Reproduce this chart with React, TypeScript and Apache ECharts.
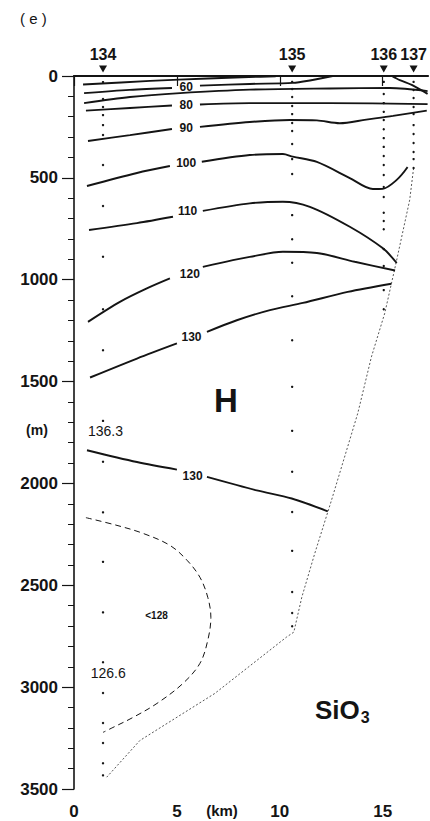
import React, { useEffect, useRef } from "react";
import * as echarts from "echarts";

const FONT = '"Liberation Sans", Arial, Helvetica, sans-serif';

// Section axes: distance (km) and depth (m)
const kmMax = 17.2;
const depthMax = 3500;

// Station positions along the section
const stationNames = ["134", "135", "136", "137"];
const stationKm = [1.41, 10.6, 15.05, 16.5];

// Sampling depths (m) at each station
const samples134 = [30, 113, 152, 192, 241, 290, 437, 638, 887, 1145, 1346, 1693, 1894, 2142, 2385, 2633, 2878, 3029, 3176, 3274, 3374, 3433];
const samples135 = [29, 64, 103, 147, 187, 231, 270, 334, 408, 481, 683, 801, 917, 1081, 1297, 1526, 1742, 1943, 2140, 2331, 2533, 2636, 2701];
const samples136 = [29, 88, 133, 176, 216, 261, 305, 348, 393, 437, 486, 545, 594, 671, 712, 752, 850, 933, 1051, 1145];
const samples137 = [29, 69, 108, 152, 187, 241, 285, 329, 373, 408, 452];

// Bottom profile [km, m]
const bottomProfile = [[16.5, 452], [16.31, 609], [15.66, 912], [15.1, 1164], [14.45, 1379], [13.79, 1655], [12.51, 2083], [11.7, 2343], [11.07, 2558], [10.68, 2730], [10.33, 2754], [6.84, 3031], [3.2, 3262], [1.59, 3442]];

// Silicate isolines [km, m]; labelled lines are split around their label
const iso50 = [[0.44, 42], [3.7, 24], [6.5, 12], [8.5, 5], [9.8, 2]];
const iso60a = [[0.49, 84], [2.7, 68], [4.76, 59]];
const iso60b = [[6.12, 47], [8.54, 39], [10.63, 34], [11.46, 22], [12.57, 0]];
const iso60coast = [[15.44, 0], [15.83, 20], [16.41, 44], [17.18, 88]];
const iso70 = [[0.49, 133], [2.72, 103], [5.15, 84], [8.54, 67], [12.43, 61], [15.34, 59], [17.18, 74]];
const iso80a = [[0.58, 170], [2.72, 157], [4.76, 145]];
const iso80b = [[6.12, 140], [8.54, 133], [12.43, 133], [17.18, 138]];
const iso90a = [[0.68, 319], [2.72, 290], [4.76, 260]];
const iso90b = [[6.12, 250], [8.54, 226], [10.49, 216], [11.8, 218], [12.91, 232], [14.2, 214], [15.5, 196], [17.14, 170]];
const iso100a = [[0.63, 540], [3.06, 476], [4.66, 442]];
const iso100b = [[6.21, 421], [8.54, 388], [10.15, 383], [10.63, 396], [11.8, 422], [13.4, 501], [14.52, 555], [15.0, 554], [15.68, 510], [16.21, 447]];
const iso110a = [[0.73, 756], [3.06, 722], [4.81, 691]];
const iso110b = [[6.26, 662], [8.54, 625], [10.15, 617], [11.46, 642], [13.4, 740], [15.01, 846], [15.68, 918]];
const iso120a = [[0.68, 1207], [2.23, 1109], [3.54, 1043], [4.66, 994]];
const iso120b = [[6.26, 937], [7.72, 904], [8.54, 888], [10.15, 863], [11.8, 869], [13.64, 912], [15.6, 955]];
const iso130upperA = [[0.78, 1480], [3.06, 1387], [5.0, 1313]];
const iso130upperB = [[6.46, 1256], [7.91, 1199], [9.52, 1149], [11.12, 1114], [13.3, 1060], [15.42, 1020]];
const iso130lowerA = [[0.63, 1837], [3.06, 1895], [5.0, 1932]];
const iso130lowerB = [[6.46, 1968], [8.88, 2034], [10.58, 2074], [12.33, 2137]];
const iso128 = [[0.58, 2168], [2.09, 2206], [3.35, 2245], [4.66, 2304], [5.49, 2377], [6.12, 2461], [6.5, 2559], [6.65, 2657], [6.5, 2770], [6.12, 2883], [5.29, 2982], [4.03, 3080], [2.86, 3149], [1.89, 3198], [1.41, 3222]];

// Isoline labels: text, km, m
const isoLabelText = ["60", "80", "90", "100", "110", "120", "130", "130"];
const isoLabelKm = [5.45, 5.45, 5.45, 5.45, 5.52, 5.63, 5.71, 5.76];
const isoLabelDepth = [55, 141, 255, 426, 662, 973, 1281, 1965];

// Value notes inside the section
const noteText = ["136.3", "126.6"];
const noteKm = [0.68, 0.81];
const noteDepth = [1745, 2931];

const solidLines = [iso50, iso60a, iso60b, iso60coast, iso70, iso80a, iso80b, iso90a, iso90b, iso100a, iso100b, iso110a, iso110b, iso120a, iso120b, iso130upperA, iso130upperB, iso130lowerA, iso130lowerB];

const ink = "#141414";

function textSeries(data: any[], label: any) {
  return {
    type: "scatter",
    data,
    symbolSize: 0,
    silent: true,
    itemStyle: { opacity: 1, color: ink },
    label: {
      show: true,
      formatter: (p: any) => p.name,
      color: ink,
      opacity: 1,
      fontFamily: FONT,
      ...label,
    },
    z: 6,
  };
}

export default function App() {
  const ref = useRef<HTMLDivElement>(null);

  useEffect(() => {
    document.body.style.margin = "0";
    if (!ref.current) return;
    const chart = echarts.init(ref.current, null, { renderer: "svg" });

    const series: any[] = [];

    solidLines.forEach((pts) => {
      series.push({
        type: "line",
        data: pts,
        smooth: 0.3,
        symbol: "none",
        silent: true,
        lineStyle: { color: ink, width: 1.9 },
        z: 3,
      });
    });

    series.push({
      type: "line",
      data: iso128,
      smooth: 0.35,
      symbol: "none",
      silent: true,
      lineStyle: { color: ink, width: 1, type: [6, 4] },
      z: 3,
    });

    series.push({
      type: "line",
      data: bottomProfile,
      symbol: "none",
      silent: true,
      lineStyle: { color: "#444", width: 0.9, type: [2, 2] },
      z: 2,
    });

    const dots: number[][] = [];
    [samples134, samples135, samples136, samples137].forEach((arr, i) => {
      arr.forEach((d) => dots.push([stationKm[i], d]));
    });
    series.push({
      type: "scatter",
      data: dots,
      symbol: "circle",
      symbolSize: 2.4,
      itemStyle: { color: ink, opacity: 1 },
      silent: true,
      z: 4,
    });

    // Station markers above the surface line
    series.push({
      type: "scatter",
      data: stationKm.map((km, i) => ({ value: [km, -34], name: stationNames[i] })),
      symbol: "triangle",
      symbolRotate: 180,
      symbolSize: [8, 7],
      itemStyle: { color: ink, opacity: 1 },
      clip: false,
      silent: true,
      label: {
        show: true,
        position: "top",
        distance: 3,
        formatter: (p: any) => p.name,
        color: ink,
        fontFamily: FONT,
        fontWeight: "bold",
        fontSize: 16,
      },
      z: 5,
    });

    series.push(
      textSeries(
        isoLabelText.map((t, i) => ({ value: [isoLabelKm[i], isoLabelDepth[i]], name: t })),
        { position: "inside", fontWeight: "bold", fontSize: 12 }
      )
    );
    series.push(
      textSeries(
        noteText.map((t, i) => ({ value: [noteKm[i], noteDepth[i]], name: t })),
        { position: "right", distance: 0, fontSize: 14 }
      )
    );
    series.push(textSeries([{ value: [4.01, 2648], name: "<128" }], { position: "inside", fontWeight: "bold", fontSize: 10 }));
    series.push(textSeries([{ value: [7.38, 1595], name: "H" }], { position: "inside", fontWeight: "bold", fontSize: 33 }));

    chart.setOption({
      animation: false,
      backgroundColor: "#ffffff",
      grid: { left: 74, top: 76, width: 354, height: 713, containLabel: false },
      xAxis: [
        {
          type: "value",
          min: 0,
          max: kmMax,
          interval: 5,
          position: "bottom",
          axisLine: { show: true, lineStyle: { color: ink, width: 1.6 } },
          axisTick: { show: true, length: 10, lineStyle: { color: ink, width: 1.2 } },
          axisLabel: {
            color: ink,
            fontFamily: FONT,
            fontWeight: "bold",
            fontSize: 17,
            margin: 14,
            showMaxLabel: false,
            formatter: (v: number) => (v % 5 === 0 ? String(v) : ""),
          },
          splitLine: { show: false },
        },
        {
          type: "value",
          min: 0,
          max: kmMax,
          position: "top",
          axisLine: { show: true, onZero: false, lineStyle: { color: ink, width: 1.8 } },
          axisTick: { show: false },
          axisLabel: { show: false },
          splitLine: { show: false },
        },
      ],
      yAxis: {
        type: "value",
        inverse: true,
        min: 0,
        max: depthMax,
        interval: 500,
        axisLine: { show: true, lineStyle: { color: ink, width: 1.6 } },
        axisTick: { show: true, length: 12, lineStyle: { color: ink, width: 1.2 } },
        minorTick: { show: true, splitNumber: 5, length: 6, lineStyle: { color: ink, width: 1 } },
        axisLabel: {
          color: ink,
          fontFamily: FONT,
          fontWeight: "bold",
          fontSize: 17,
          margin: 16,
          formatter: (v: number) => String(v),
        },
        splitLine: { show: false },
      },
      graphic: [
        {
          type: "text",
          left: 20,
          top: 11,
          style: { text: "( e )", fill: ink, font: `15px ${FONT}` },
        },
        {
          type: "text",
          x: 37,
          y: 430,
          style: { text: "(m)", fill: ink, font: `bold 14px ${FONT}`, align: "center", verticalAlign: "middle" },
        },
        {
          type: "text",
          x: 222,
          y: 810,
          style: { text: "(km)", fill: ink, font: `bold 15px ${FONT}`, align: "center", verticalAlign: "middle" },
        },
        {
          type: "text",
          x: 315,
          y: 710,
          style: {
            text: "{a|SiO}{b|3}",
            verticalAlign: "middle",
            rich: {
              a: { fontFamily: FONT, fontWeight: "bold", fontSize: 26, fill: ink, verticalAlign: "middle" },
              b: { fontFamily: FONT, fontWeight: "bold", fontSize: 16, fill: ink, padding: [14, 0, 0, 1] },
            },
          },
        },
      ],
      series,
    });

    return () => chart.dispose();
  }, []);

  return <div ref={ref} style={{ width: 430, height: 821 }} />;
}
